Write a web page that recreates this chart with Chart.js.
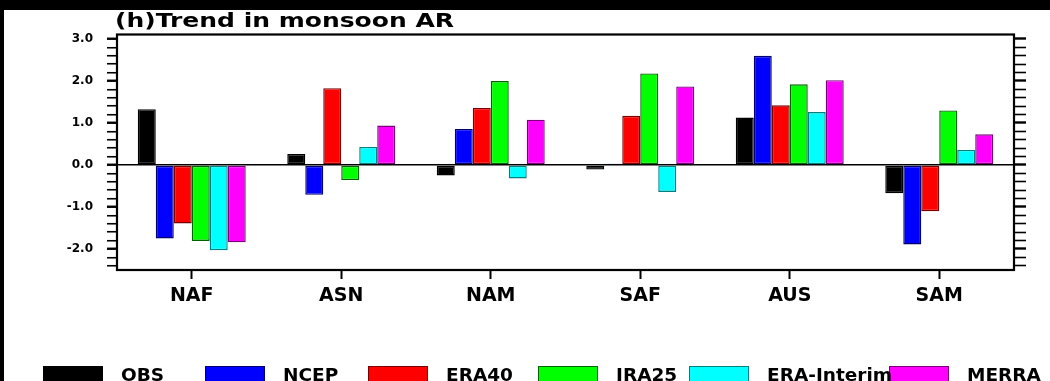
<!DOCTYPE html>
<html>
<head>
<meta charset="utf-8">
<script src="https://cdn.jsdelivr.net/npm/chart.js@4/dist/chart.umd.min.js"></script>
<style>
  html, body { margin: 0; padding: 0; background: #000; width: 1050px; height: 381px; overflow: hidden; }
  #wrap { position: absolute; left: 4px; top: 10px; width: 1046px; height: 371px; background: #fff; }
  canvas { display: block; }
</style>
</head>
<body>
<div id="wrap"><canvas id="trendChart" width="1046" height="371"></canvas></div>
<script>
// Monsoon regions and trend values per dataset
const regions = ["NAF", "ASN", "NAM", "SAF", "AUS", "SAM"];
const obs = [1.33, 0.26, -0.25, -0.11, 1.13, -0.67];
const ncep = [-1.75, -0.71, 0.86, 0.03, 2.6, -1.89];
const era40 = [-1.39, 1.83, 1.36, 1.17, 1.42, -1.1];
const jra25 = [-1.81, -0.36, 2.0, 2.18, 1.92, 1.3];
const eraInterim = [-2.03, 0.43, -0.32, -0.64, 1.26, 0.36];
const merra = [-1.84, 0.94, 1.08, 1.87, 2.02, 0.73];
const seriesNames = ["OBS", "NCEP", "ERA40", "JRA25", "ERA-Interim", "MERRA"];
const yTickStep = 0.2;

const TITLE = "(h)Trend in monsoon AR";
const FONT = "'DejaVu Sans', 'Liberation Sans', Arial, sans-serif";

const fills = ["#000000", "#0000ff", "#ff0000", "#00ff00", "#00ffff", "#ff00ff"];
const edges = ["#000000", "#00006e", "#7a0000", "#006400", "#008080", "#7a007a"];
const seriesValues = [obs, ncep, era40, jra25, eraInterim, merra];

// title, frame and the bottom legend
const extras = {
  id: "extras",
  afterDatasetsDraw(chart) {
    const ctx = chart.ctx;
    const a = chart.chartArea;
    ctx.save();
    // frame
    ctx.strokeStyle = "#000";
    ctx.lineWidth = 2.2;
    ctx.strokeRect(a.left, a.top, a.right - a.left, a.bottom - a.top);
    // title (stretched like the original)
    ctx.fillStyle = "#000";
    ctx.font = "bold 20px " + FONT;
    ctx.textBaseline = "alphabetic";
    ctx.translate(a.left - 2, 16.5);
    ctx.scale(1.25, 1);
    ctx.fillText(TITLE, 0, 0);
    ctx.restore();

    // legend: boxes first, then labels on top
    const xs = [39, 201, 364, 534, 685, 885];
    ctx.save();
    chart.data.datasets.forEach((ds, i) => {
      ctx.fillStyle = ds.backgroundColor;
      ctx.fillRect(xs[i], 356, 60, 20);
      ctx.strokeStyle = ds.borderColor;
      ctx.lineWidth = 1;
      ctx.strokeRect(xs[i] + 0.5, 356.5, 59, 20);
    });
    ctx.font = "bold 18.5px " + FONT;
    ctx.textBaseline = "alphabetic";
    ctx.fillStyle = "#000";
    chart.data.datasets.forEach((ds, i) => {
      ctx.fillText(ds.label, xs[i] + 78, 371);
    });
    ctx.restore();
  }
};

const isMajor = v => Math.abs(v - Math.round(v)) < 1e-6;

new Chart(document.getElementById("trendChart").getContext("2d"), {
  type: "bar",
  data: {
    labels: regions,
    datasets: seriesNames.map((name, i) => ({
      label: name,
      data: seriesValues[i],
      backgroundColor: fills[i],
      borderColor: edges[i],
      borderWidth: 1.4,
      borderSkipped: false,
      categoryPercentage: 0.722,
      barPercentage: 1.0,
      yAxisID: "y"
    }))
  },
  options: {
    responsive: false,
    animation: false,
    devicePixelRatio: 1,
    layout: { padding: { left: 0, right: 0, top: 24.5, bottom: 71 } },
    plugins: {
      legend: { display: false },
      title: { display: false },
      tooltip: { enabled: false }
    },
    scales: {
      x: {
        type: "category",
        border: { display: false },
        grid: {
          offset: false,
          drawOnChartArea: false,
          drawTicks: true,
          tickLength: 9,
          tickWidth: 2,
          tickColor: "#000"
        },
        ticks: {
          color: "#000",
          padding: 6,
          font: { family: FONT, size: 19, weight: "bold" },
          maxRotation: 0,
          autoSkip: false
        },
        afterFit: s => { s.height = 40; }
      },
      y: {
        position: "left",
        min: -2.5,
        max: 3.107,
        border: { display: false },
        grid: {
          drawOnChartArea: true,
          drawTicks: true,
          tickLength: 10,
          color: c => (c.tick && Math.abs(c.tick.value) < 1e-6 ? "#000" : "rgba(0,0,0,0)"),
          lineWidth: 1.5,
          tickColor: "#000",
          tickWidth: c => (c.tick && isMajor(c.tick.value) ? 2.4 : 1.6)
        },
        ticks: {
          stepSize: yTickStep,
          includeBounds: false,
          autoSkip: false,
          padding: 14,
          color: "#000",
          font: { family: FONT, size: 12, weight: "bold" },
          callback: v => (isMajor(v) ? v.toFixed(1) : "")
        },
        afterFit: s => { s.width = 113; }
      },
      y2: {
        position: "right",
        min: -2.5,
        max: 3.107,
        border: { display: false },
        grid: {
          drawOnChartArea: false,
          drawTicks: true,
          tickLength: 12,
          tickColor: "#000",
          tickWidth: c => (c.tick && isMajor(c.tick.value) ? 2.4 : 1.6)
        },
        ticks: {
          stepSize: yTickStep,
          includeBounds: false,
          autoSkip: false,
          display: false
        },
        afterFit: s => { s.width = 36; }
      }
    }
  },
  plugins: [extras]
});
</script>
</body>
</html>
